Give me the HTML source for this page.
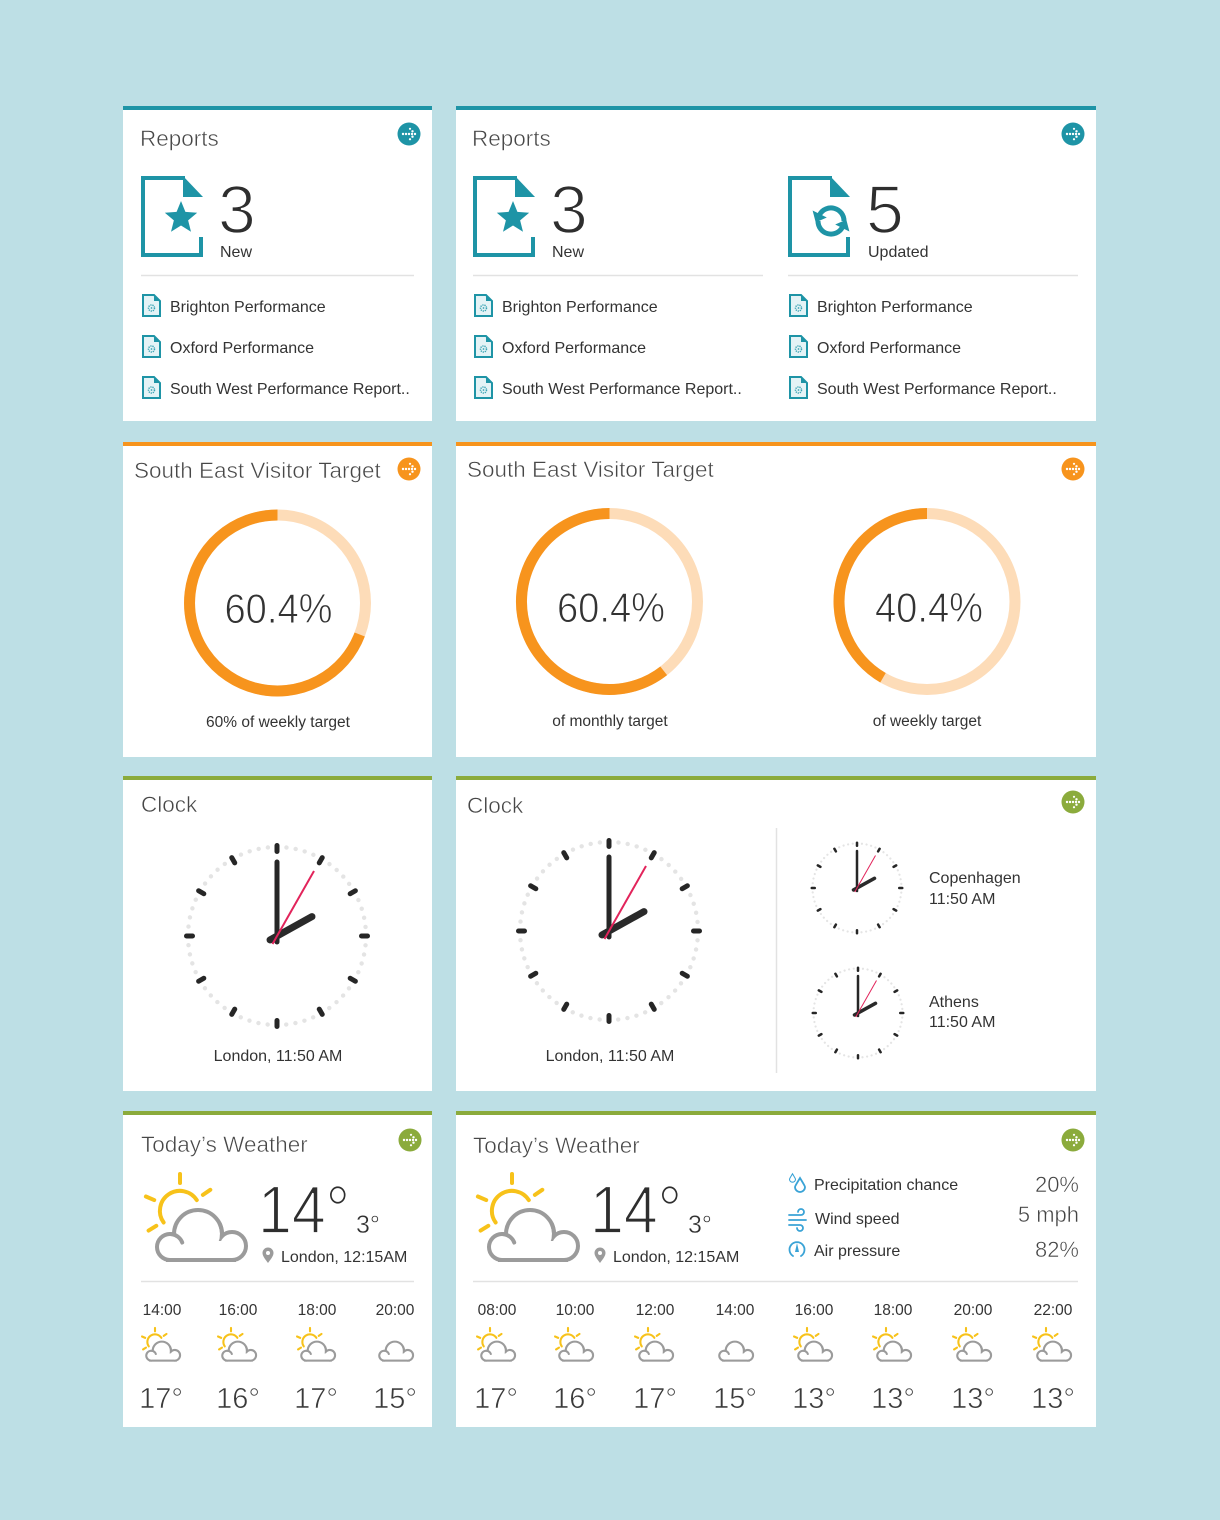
<!DOCTYPE html>
<html><head><meta charset="utf-8"><style>
html,body{margin:0;padding:0;background:#bddfe5;}
svg{display:block;font-family:"Liberation Sans",Arial,sans-serif;}
.t{font-size:22.5px;fill:#474747;stroke:#fff;stroke-width:0.5px;}
.big{font-size:68px;fill:#2e2e2e;stroke:#fff;stroke-width:1.7px;}
.lbl{font-size:16px;fill:#333;}
.pct{font-size:42px;fill:#333;stroke:#fff;stroke-width:0.9px;}
.sub{font-size:15.5px;fill:#333;}
.tm{font-size:15.5px;fill:#333;}
.tp{font-size:29px;fill:#3a3a3a;stroke:#fff;stroke-width:0.6px;}
.val{font-size:22px;fill:#444;stroke:#fff;stroke-width:0.5px;}
</style></head><body>
<svg width="1220" height="1520" viewBox="0 0 1220 1520" xmlns="http://www.w3.org/2000/svg" xmlns:xlink="http://www.w3.org/1999/xlink">
<defs>
<g id="arrow"><circle r="11.5"/><g fill="#fff"><circle cx="-6" r="1.2"/><circle cx="-3" r="1.2"/><circle cx="0" r="1.2"/><circle cx="3" r="1.2"/><circle cx="6" r="1.2"/><circle cx="3.5" cy="-2.7" r="1.2"/><circle cx="1" cy="-5.2" r="1.1"/><circle cx="3.5" cy="2.7" r="1.2"/><circle cx="1" cy="5.2" r="1.1"/></g></g>
<g id="doc"><path d="M44,2 H2 V79 H60 V61" fill="none" stroke="#1e94a6" stroke-width="4"/><path d="M42,0 L62,21 L42,21Z" fill="#1e94a6"/></g>
<g id="sdoc"><path d="M1,1 H12 L18,7 V22 H1Z" fill="#e4f3f6" stroke="#1e94a6" stroke-width="2"/><path d="M12,1 L18,7 L12,7Z" fill="#1e94a6"/><circle cx="9.5" cy="14" r="3" fill="none" stroke="#3aa3b3" stroke-width="1.5" stroke-dasharray="1.2 0.9"/><circle cx="9.5" cy="14" r="0.9" fill="#3aa3b3"/></g>
<g id="clock">
<circle r="89" fill="none" stroke="#e4e4e4" stroke-width="4.4" stroke-linecap="round" stroke-dasharray="0.01 9.3101"/>
<g stroke="#262626" stroke-width="5" stroke-linecap="round">
<line x1="0" y1="-84.5" x2="0" y2="-90.5"/>
<line x1="42.25" y1="-73.18" x2="45.25" y2="-78.38"/>
<line x1="73.18" y1="-42.25" x2="78.38" y2="-45.25"/>
<line x1="84.5" y1="0" x2="90.5" y2="0"/>
<line x1="73.18" y1="42.25" x2="78.38" y2="45.25"/>
<line x1="42.25" y1="73.18" x2="45.25" y2="78.38"/>
<line x1="0" y1="84.5" x2="0" y2="90.5"/>
<line x1="-42.25" y1="73.18" x2="-45.25" y2="78.38"/>
<line x1="-73.18" y1="42.25" x2="-78.38" y2="45.25"/>
<line x1="-84.5" y1="0" x2="-90.5" y2="0"/>
<line x1="-73.18" y1="-42.25" x2="-78.38" y2="-45.25"/>
<line x1="-42.25" y1="-73.18" x2="-45.25" y2="-78.38"/>
</g>
<line x1="0" y1="6" x2="0" y2="-74" stroke="#262626" stroke-width="5" stroke-linecap="round"/>
<line x1="-7" y1="3.9" x2="35" y2="-19.4" stroke="#2a2a2a" stroke-width="7" stroke-linecap="round"/>
<line x1="-4.5" y1="8" x2="37" y2="-65" stroke="#e2245b" stroke-width="2"/>
</g>
<g id="wbig">
<g stroke="#f7c21a" stroke-width="4" stroke-linecap="round" fill="none">
<path d="M-16.38,11.47 A20,20 0 1 1 16.77,-10.89"/>
<line x1="0" y1="-28" x2="0" y2="-37"/>
<line x1="22.9" y1="-16.1" x2="30.3" y2="-21.2"/>
<line x1="-25.8" y1="-10.9" x2="-34.1" y2="-14.5"/>
<line x1="-23.7" y1="14.8" x2="-31.4" y2="19.6"/>
</g>
<g fill="#fff" stroke="#fff" stroke-width="12"><circle cx="-10" cy="36" r="11"/><circle cx="18" cy="23" r="22"/><circle cx="52" cy="35" r="12"/><rect x="-10" y="30" width="62" height="17"/></g>
<g fill="#9b9b9b" stroke="#9b9b9b" stroke-width="8"><circle cx="-10" cy="36" r="11"/><circle cx="18" cy="23" r="22"/><circle cx="52" cy="35" r="12"/><rect x="-10" y="30" width="62" height="17"/></g>
<g fill="#fff"><circle cx="-10" cy="36" r="11"/><circle cx="18" cy="23" r="22"/><circle cx="52" cy="35" r="12"/><rect x="-10" y="30" width="62" height="17"/></g>
<g fill="none" stroke="#9b9b9b" stroke-width="4" stroke-linecap="round"><path d="M-10,23 A13,13 0 0 1 2.2,31.5"/><path d="M39.8,12.9 A24,24 0 0 1 41.9,25.1"/></g>
</g>
<g id="cs">
<g fill="#9b9b9b" stroke="#9b9b9b" stroke-width="11"><circle cx="-10" cy="36" r="10.25"/><circle cx="18" cy="23" r="21.25"/><circle cx="52" cy="35" r="11.25"/><rect x="-10" y="30" width="62" height="16.25"/></g>
<g fill="#fff"><circle cx="-10" cy="36" r="10.25"/><circle cx="18" cy="23" r="21.25"/><circle cx="52" cy="35" r="11.25"/><rect x="-10" y="30" width="62" height="16.25"/></g>
<g fill="none" stroke="#9b9b9b" stroke-width="5.5" stroke-linecap="round"><path d="M-10,23 A13,13 0 0 1 2.2,31.5"/><path d="M39.8,12.9 A24,24 0 0 1 41.9,25.1"/></g>
</g>
<g id="ws">
<g stroke="#f7c21a" stroke-width="5.5" stroke-linecap="round" fill="none">
<path d="M-16.38,11.47 A20,20 0 1 1 16.77,-10.89"/>
<line x1="0" y1="-28" x2="0" y2="-37"/>
<line x1="22.9" y1="-16.1" x2="30.3" y2="-21.2"/>
<line x1="-25.8" y1="-10.9" x2="-34.1" y2="-14.5"/>
<line x1="-23.7" y1="14.8" x2="-31.4" y2="19.6"/>
</g>
<g fill="#fff" stroke="#fff" stroke-width="17"><circle cx="-10" cy="36" r="10.25"/><circle cx="18" cy="23" r="21.25"/><circle cx="52" cy="35" r="11.25"/><rect x="-10" y="30" width="62" height="16.25"/></g>
<use xlink:href="#cs" href="#cs"/>
</g>
<path id="pin" d="M0,8 C-3,4 -5.5,1 -5.5,-2 A5.5,5.5 0 0 1 5.5,-2 C5.5,1 3,4 0,8Z"/>
</defs>

<!-- cards -->
<g fill="#fff">
<rect x="123" y="106" width="309" height="315"/><rect x="456" y="106" width="640" height="315"/>
<rect x="123" y="442" width="309" height="315"/><rect x="456" y="442" width="640" height="315"/>
<rect x="123" y="776" width="309" height="315"/><rect x="456" y="776" width="640" height="315"/>
<rect x="123" y="1111" width="309" height="316"/><rect x="456" y="1111" width="640" height="316"/>
</g>
<rect x="123" y="106" width="309" height="4" fill="#1e94a6"/><rect x="456" y="106" width="640" height="4" fill="#1e94a6"/>
<rect x="123" y="442" width="309" height="4" fill="#f7941d"/><rect x="456" y="442" width="640" height="4" fill="#f7941d"/>
<rect x="123" y="776" width="309" height="4" fill="#8bab3c"/><rect x="456" y="776" width="640" height="4" fill="#8bab3c"/>
<rect x="123" y="1111" width="309" height="4" fill="#8bab3c"/><rect x="456" y="1111" width="640" height="4" fill="#8bab3c"/>

<!-- arrows -->
<use xlink:href="#arrow" href="#arrow" x="409" y="134" fill="#1e94a6"/>
<use xlink:href="#arrow" href="#arrow" x="1073" y="134" fill="#1e94a6"/>
<use xlink:href="#arrow" href="#arrow" x="409" y="469" fill="#f7941d"/>
<use xlink:href="#arrow" href="#arrow" x="1073" y="469" fill="#f7941d"/>
<use xlink:href="#arrow" href="#arrow" x="1073" y="802" fill="#8bab3c"/>
<use xlink:href="#arrow" href="#arrow" x="410" y="1140" fill="#8bab3c"/>
<use xlink:href="#arrow" href="#arrow" x="1073" y="1140" fill="#8bab3c"/>

<!-- ROW 1: Reports -->
<text class="t" x="140" y="146">Reports</text>
<text class="t" x="472" y="146">Reports</text>
<use xlink:href="#doc" href="#doc" x="141" y="176"/>
<use xlink:href="#doc" href="#doc" x="473" y="176"/>
<use xlink:href="#doc" href="#doc" x="788" y="176"/>
<path transform="translate(181,218)" fill="#1e94a6" d="M0,-17 L4.41,-6.07 L16.17,-5.25 L7.13,2.32 L9.99,13.75 L0,7.5 L-9.99,13.75 L-7.13,2.32 L-16.17,-5.25 L-4.41,-6.07Z"/>
<path transform="translate(513,218)" fill="#1e94a6" d="M0,-17 L4.41,-6.07 L16.17,-5.25 L7.13,2.32 L9.99,13.75 L0,7.5 L-9.99,13.75 L-7.13,2.32 L-16.17,-5.25 L-4.41,-6.07Z"/>
<g fill="none" stroke="#1e94a6" stroke-width="5">
<path d="M844,221 A13,13 0 0 0 819.7,214.5"/>
<path d="M818,221 A13,13 0 0 0 842.3,227.5"/>
</g>
<path d="M815.7,222.4 L826.8,217.5 L812.6,210.5Z" fill="#1e94a6"/>
<path d="M846.3,219.6 L835.2,224.5 L849.4,231.5Z" fill="#1e94a6"/>
<text class="big" x="218" y="233">3</text>
<text class="big" x="550" y="233">3</text>
<text class="big" x="866" y="233">5</text>
<text class="lbl" x="220" y="257">New</text>
<text class="lbl" x="552" y="257">New</text>
<text class="lbl" x="868" y="257">Updated</text>
<g stroke="#e2e2e2" stroke-width="1.5">
<line x1="141" y1="275.5" x2="414" y2="275.5"/>
<line x1="473" y1="275.5" x2="763" y2="275.5"/>
<line x1="788" y1="275.5" x2="1078" y2="275.5"/>
<line x1="141" y1="1281.5" x2="414" y2="1281.5"/>
<line x1="473" y1="1281.5" x2="1078" y2="1281.5"/>
<line x1="776.5" y1="828" x2="776.5" y2="1073"/>
</g>
<use xlink:href="#sdoc" href="#sdoc" x="142" y="294"/><use xlink:href="#sdoc" href="#sdoc" x="142" y="335"/><use xlink:href="#sdoc" href="#sdoc" x="142" y="376"/>
<use xlink:href="#sdoc" href="#sdoc" x="474" y="294"/><use xlink:href="#sdoc" href="#sdoc" x="474" y="335"/><use xlink:href="#sdoc" href="#sdoc" x="474" y="376"/>
<use xlink:href="#sdoc" href="#sdoc" x="789" y="294"/><use xlink:href="#sdoc" href="#sdoc" x="789" y="335"/><use xlink:href="#sdoc" href="#sdoc" x="789" y="376"/>
<text class="lbl" x="170" y="312">Brighton Performance</text>
<text class="lbl" x="170" y="353">Oxford Performance</text>
<text class="lbl" x="170" y="394">South West Performance Report..</text>
<text class="lbl" x="502" y="312">Brighton Performance</text>
<text class="lbl" x="502" y="353">Oxford Performance</text>
<text class="lbl" x="502" y="394">South West Performance Report..</text>
<text class="lbl" x="817" y="312">Brighton Performance</text>
<text class="lbl" x="817" y="353">Oxford Performance</text>
<text class="lbl" x="817" y="394">South West Performance Report..</text>

<!-- ROW 2: Visitor target -->
<text class="t" x="134" y="478">South East Visitor Target</text>
<text class="t" x="467" y="477">South East Visitor Target</text>
<g fill="none" stroke-width="11">
<circle cx="277.5" cy="603" r="88" stroke="#fddcb8"/>
<path d="M359.7,634.5 A88,88 0 1 1 277.5,515" stroke="#f7941d"/>
<circle cx="609.5" cy="601.5" r="88" stroke="#fddcb8"/>
<path d="M663.7,670.8 A88,88 0 1 1 609.5,513.5" stroke="#f7941d"/>
<circle cx="927" cy="601.5" r="88" stroke="#fddcb8"/>
<path d="M883,677.7 A88,88 0 0 1 927,513.5" stroke="#f7941d"/>
</g>
<text class="pct" x="278.5" y="623" text-anchor="middle" textLength="108" lengthAdjust="spacingAndGlyphs">60.4%</text>
<text class="pct" x="611" y="622" text-anchor="middle" textLength="108" lengthAdjust="spacingAndGlyphs">60.4%</text>
<text class="pct" x="929" y="622" text-anchor="middle" textLength="108" lengthAdjust="spacingAndGlyphs">40.4%</text>
<text class="sub" x="278" y="727" text-anchor="middle">60% of weekly target</text>
<text class="sub" x="610" y="726" text-anchor="middle">of monthly target</text>
<text class="sub" x="927" y="726" text-anchor="middle">of weekly target</text>

<!-- ROW 3: Clocks -->
<text class="t" x="141" y="812">Clock</text>
<text class="t" x="467" y="813">Clock</text>
<use xlink:href="#clock" href="#clock" transform="translate(277,936)"/>
<use xlink:href="#clock" href="#clock" transform="translate(609,931)"/>
<use xlink:href="#clock" href="#clock" transform="translate(857,888) scale(0.5)"/>
<use xlink:href="#clock" href="#clock" transform="translate(858,1013) scale(0.5)"/>
<text class="lbl" x="278" y="1061" text-anchor="middle">London, 11:50 AM</text>
<text class="lbl" x="610" y="1061" text-anchor="middle">London, 11:50 AM</text>
<text class="lbl" x="929" y="883">Copenhagen</text>
<text class="lbl" x="929" y="904">11:50 AM</text>
<text class="lbl" x="929" y="1007">Athens</text>
<text class="lbl" x="929" y="1027">11:50 AM</text>

<!-- ROW 4: Weather -->
<text class="t" x="141" y="1152">Today’s Weather</text>
<text class="t" x="473" y="1153">Today’s Weather</text>
<use xlink:href="#wbig" href="#wbig" transform="translate(180,1211)"/>
<use xlink:href="#wbig" href="#wbig" transform="translate(512,1211)"/>
<text class="big" x="258" y="1233" font-size="66" textLength="92" lengthAdjust="spacingAndGlyphs">14°</text>
<text class="big" x="590" y="1233" font-size="66" textLength="92" lengthAdjust="spacingAndGlyphs">14°</text>
<text x="356" y="1233" font-size="25" fill="#2e2e2e" stroke="#fff" stroke-width="0.4">3°</text>
<text x="688" y="1233" font-size="25" fill="#2e2e2e" stroke="#fff" stroke-width="0.4">3°</text>
<use xlink:href="#pin" href="#pin" transform="translate(268,1255)" fill="#9b9b9b"/>
<use xlink:href="#pin" href="#pin" transform="translate(600,1255)" fill="#9b9b9b"/>
<circle cx="268" cy="1253" r="2" fill="#fff"/><circle cx="600" cy="1253" r="2" fill="#fff"/>
<text class="lbl" x="281" y="1262">London, 12:15AM</text>
<text class="lbl" x="613" y="1262">London, 12:15AM</text>

<!-- details -->
<g fill="none" stroke="#3aa3d6" stroke-width="1.8" stroke-linecap="round">
<path transform="translate(800,1185)" d="M0,-7 C3,-2 5,1 5,2 A5,5 0 0 1 -5,2 C-5,1 -3,-2 0,-7Z"/>
<path transform="translate(792.5,1178) scale(0.6)" d="M0,-7 C3,-2 5,1 5,2 A5,5 0 0 1 -5,2 C-5,1 -3,-2 0,-7Z"/>
<path d="M789,1215 H801 A3,3 0 1 0 798,1212"/>
<path d="M789,1220 H806"/>
<path d="M789,1225 H800 A3,3 0 1 1 797,1228"/>
<path d="M793,1256 A7.5,7.5 0 1 1 801,1256"/>
</g>
<path d="M797,1243 L799,1252 L795,1252Z" fill="#3aa3d6"/>
<text class="lbl" x="814" y="1190">Precipitation chance</text>
<text class="lbl" x="815" y="1224">Wind speed</text>
<text class="lbl" x="814" y="1256">Air pressure</text>
<text class="val" x="1079" y="1192" text-anchor="end">20%</text>
<text class="val" x="1079" y="1222" text-anchor="end">5 mph</text>
<text class="val" x="1079" y="1257" text-anchor="end">82%</text>

<!-- hourly -->
<g class="tm" text-anchor="middle" font-size="15.5" fill="#333">
<text x="162" y="1315">14:00</text><text x="238" y="1315">16:00</text><text x="317" y="1315">18:00</text><text x="395" y="1315">20:00</text>
<text x="497" y="1315">08:00</text><text x="575" y="1315">10:00</text><text x="655" y="1315">12:00</text><text x="735" y="1315">14:00</text>
<text x="814" y="1315">16:00</text><text x="893" y="1315">18:00</text><text x="973" y="1315">20:00</text><text x="1053" y="1315">22:00</text>
</g>
<use xlink:href="#ws" href="#ws" transform="translate(155,1342) scale(0.38)"/>
<use xlink:href="#ws" href="#ws" transform="translate(231,1342) scale(0.38)"/>
<use xlink:href="#ws" href="#ws" transform="translate(310,1342) scale(0.38)"/>
<use xlink:href="#cs" href="#cs" transform="translate(388,1342) scale(0.38)"/>
<use xlink:href="#ws" href="#ws" transform="translate(490,1342) scale(0.38)"/>
<use xlink:href="#ws" href="#ws" transform="translate(568,1342) scale(0.38)"/>
<use xlink:href="#ws" href="#ws" transform="translate(648,1342) scale(0.38)"/>
<use xlink:href="#cs" href="#cs" transform="translate(728,1342) scale(0.38)"/>
<use xlink:href="#ws" href="#ws" transform="translate(807,1342) scale(0.38)"/>
<use xlink:href="#ws" href="#ws" transform="translate(886,1342) scale(0.38)"/>
<use xlink:href="#ws" href="#ws" transform="translate(966,1342) scale(0.38)"/>
<use xlink:href="#ws" href="#ws" transform="translate(1046,1342) scale(0.38)"/>
<g class="tp" text-anchor="middle">
<text x="161" y="1408">17°</text><text x="238" y="1408">16°</text><text x="316" y="1408">17°</text><text x="395" y="1408">15°</text>
<text x="496" y="1408">17°</text><text x="575" y="1408">16°</text><text x="655" y="1408">17°</text><text x="735" y="1408">15°</text>
<text x="814" y="1408">13°</text><text x="893" y="1408">13°</text><text x="973" y="1408">13°</text><text x="1053" y="1408">13°</text>
</g>
</svg>
</body></html>
